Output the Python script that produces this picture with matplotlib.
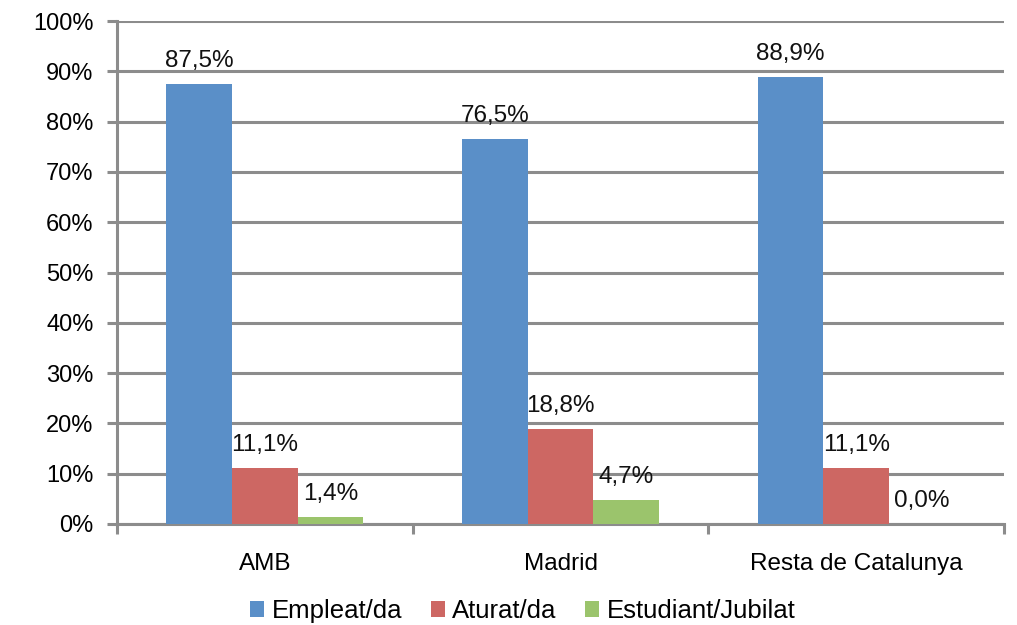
import matplotlib
matplotlib.use("Agg")
import matplotlib.pyplot as plt
import numpy as np

categories = ["AMB", "Madrid", "Resta de Catalunya"]
series_names = ["Empleat/da", "Aturat/da", "Estudiant/Jubilat"]
empleat = [87.5, 76.5, 88.9]
aturat = [11.1, 18.8, 11.1]
estudiant = [1.4, 4.7, 0.0]
colors = ["#5A8FC8", "#CD6763", "#9BC46C"]

plt.rcParams['font.family'] = ['Liberation Sans', 'DejaVu Sans']

fig = plt.figure(figsize=(10.17, 6.25), dpi=100)
ax = fig.add_axes([117/1017, 1-524/625, (1004-117)/1017, (524-21)/625])

x = np.arange(len(categories))
w = 0.222
grid_c = "#8C8C8C"
for i, (vals, c, name) in enumerate(zip([empleat, aturat, estudiant], colors, series_names)):
    pos = x + (i - 1) * w
    ax.bar(pos, vals, width=w, color=c, label=name, zorder=3)
    for p, v in zip(pos, vals):
        ax.text(p, v + 2.4, f"{v:.1f}%".replace(".", ","), ha="center", va="bottom",
                fontsize=17.5, color="#111111", zorder=4)

ax.set_xlim(-0.5, 2.5)
ax.set_ylim(0, 100)
ax.set_yticks(np.arange(0, 101, 10))
ax.set_yticklabels([f"{t}%" for t in range(0, 101, 10)], fontsize=17)
ax.yaxis.grid(True, color=grid_c, linewidth=2.2, zorder=0)
ax.set_axisbelow(True)

ax.set_xticks(x)
ax.set_xticklabels(categories, fontsize=17.5)
ax.tick_params(axis="x", which="major", length=0, pad=21)
ax.set_xticks([-0.5, 0.5, 1.5, 2.5], minor=True)
ax.tick_params(axis="x", which="minor", length=7, width=2.2, color=grid_c, direction="out")
ax.tick_params(axis="y", length=7, width=2.2, color=grid_c, pad=10)

for s in ["top", "right"]:
    ax.spines[s].set_visible(False)
for s in ["left", "bottom"]:
    ax.spines[s].set_color(grid_c)
    ax.spines[s].set_linewidth(2.2)

leg = fig.legend(loc="lower center", bbox_to_anchor=(0.514, -0.034), ncol=3, frameon=False,
                 fontsize=18.5, handlelength=0.55, handleheight=0.55, handletextpad=0.3,
                 columnspacing=1.1)

fig.savefig("out.png", dpi=100)
